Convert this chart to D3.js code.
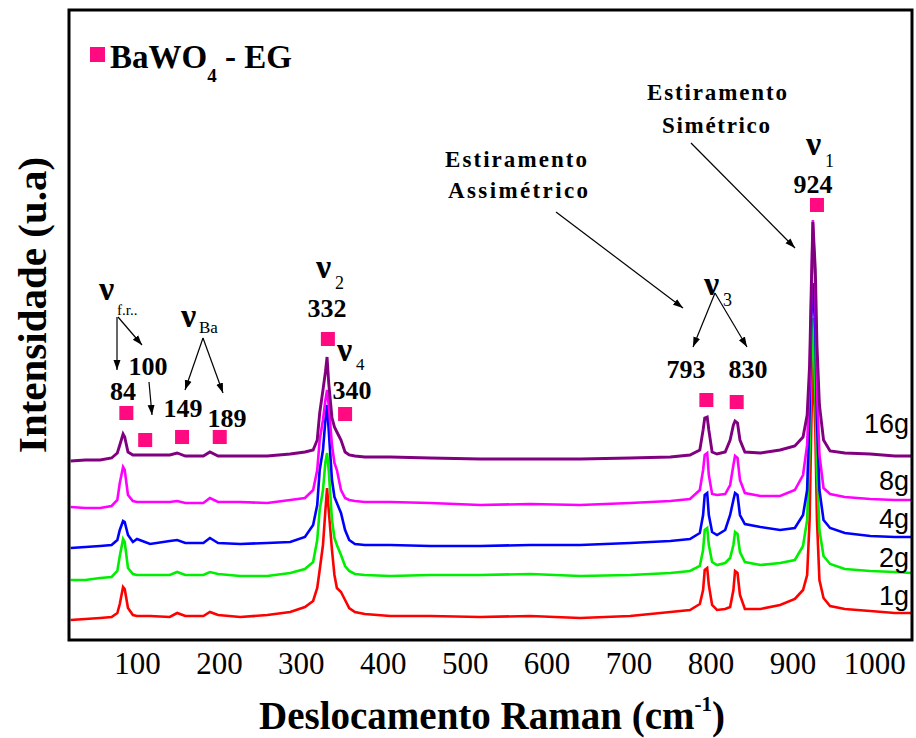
<!DOCTYPE html>
<html><head><meta charset="utf-8">
<script src="https://cdn.jsdelivr.net/npm/d3@7"></script>
<style>body{margin:0;background:#fff;} svg{display:block;}</style>
</head><body>
<svg id="c" width="916" height="738"></svg>
<script>
// Raman shift grid (cm-1)
const shift = [19,37,55,69,76,79,83,85,89,95,100,116,140,149,159,181,189,199,226,259,287,305,315,320,323,327,330,332,334,338,341,344,349,354,359,366,378,409,458,519,580,641,702,751,775,787,791,793,796,798,802,808,818,824,828,830,833,836,842,861,885,903,913,918,921,923,925,928,930,933,938,946,964,995,1025,1046];
// Intensities (u.a), stacked as in the figure
const int1g = [20,21,22,23,27,36,53,51,32,25,24,24,23,27,24,24,28,25,23,25,28,33,39,52,70,95,130,152,130,90,65,52,48,40,32,28,26,24,24,23,24,22,24,28,30,36,50,70,72,55,35,30,31,33,50,69,67,45,31,31,35,41,50,65,120,210,285,210,120,60,42,34,31,29,27,27];
const int2g = [60,60,62,63,69,84,101,98,72,66,65,65,65,68,65,65,68,66,64,64,67,71,78,100,130,150,178,187,170,120,102,95,85,74,69,66,65,64,65,65,66,64,65,67,69,74,90,110,112,95,78,75,77,82,95,108,106,88,78,75,77,80,94,120,190,270,322,250,170,110,84,76,71,69,68,67];
const int4g = [92,93,94,95,100,110,119,118,105,98,101,96,99,100,97,97,102,97,96,97,98,103,115,135,170,190,220,235,210,160,143,137,127,110,100,96,95,95,94,94,95,95,97,99,101,107,125,145,147,125,108,105,110,125,140,147,145,125,116,113,110,112,125,150,230,320,357,310,220,150,120,112,107,104,103,103];
const int8g = [133,132,132,134,140,157,173,170,145,139,138,138,138,139,137,137,142,138,138,137,140,142,150,170,200,220,240,250,235,195,177,170,150,142,140,139,138,138,137,135,136,135,137,139,141,150,170,185,187,165,146,145,146,155,175,184,182,160,147,144,144,150,165,195,260,340,420,350,250,185,152,146,143,141,140,140];
const int16g = [179,180,180,182,187,195,206,203,188,185,185,185,185,187,184,184,188,184,184,184,186,188,190,200,227,250,268,283,257,222,213,208,200,188,185,184,183,183,182,181,181,181,182,183,185,190,210,222,223,210,188,186,188,200,215,219,217,200,188,187,190,194,203,225,275,350,418,370,295,235,200,189,187,186,184,184];
const seriesNames = ["1g","2g","4g","8g","16g"];
const seriesValues = [int1g,int2g,int4g,int8g,int16g];
const seriesColors = ["#ff0000","#00ee00","#0000ff","#ff00ff","#800080"];
const xTicks = [100,200,300,400,500,600,700,800,900,1000];
// BaWO4 marker positions (shift, intensity)
const markerShift = [87,110,155,201,333,354,795,832,930];
const markerInt = [227,200,203,203,301,226,240,238,435];
const peakLabels = ["84","100","149","189","332","340","793","830","924"];

const svg = d3.select("#c");
const m={l:69,r:912,t:10,b:640};
const x=d3.scaleLinear().domain([17,1046]).range([m.l,m.r]);
const y=d3.scaleLinear().domain([0,630]).range([m.b,m.t]);
const serif='"Liberation Serif","Times New Roman",serif';
const sans='"Liberation Sans",Arial,sans-serif';

const defs=svg.append("defs");
defs.append("clipPath").attr("id","clip").append("rect")
  .attr("x",m.l).attr("y",m.t).attr("width",m.r-m.l).attr("height",m.b-m.t);
defs.append("marker").attr("id","arr").attr("viewBox","0 0 10 10").attr("refX",10).attr("refY",5)
  .attr("markerWidth",10).attr("markerHeight",10).attr("markerUnits","userSpaceOnUse").attr("orient","auto")
  .append("path").attr("d","M0,1.5 L10,5 L0,8.5 Z").attr("fill","#000");

const line=d3.line().x((d,i)=>x(shift[i])).y(d=>y(d));
const g=svg.append("g").attr("clip-path","url(#clip)");
seriesValues.forEach((vals,k)=>{
  g.append("path").datum(vals).attr("d",line).attr("fill","none")
   .attr("stroke",seriesColors[k]).attr("stroke-width",k===4?2.9:2.6).attr("stroke-linejoin","miter");
});

// frame
svg.append("rect").attr("x",m.l).attr("y",m.t).attr("width",m.r-m.l).attr("height",m.b-m.t)
  .attr("fill","none").attr("stroke","#000").attr("stroke-width",3);

// x axis
const ax=svg.append("g").attr("transform",`translate(0,${m.b})`)
  .call(d3.axisBottom(x).tickValues(xTicks).tickSize(0).tickPadding(12).tickFormat(d3.format("d")));
ax.select(".domain").remove();
ax.selectAll("text").attr("font-family",serif).attr("font-size",31).attr("fill","#000");

// axis titles
const xt=svg.append("text").attr("x",492).attr("y",729).attr("text-anchor","middle")
  .attr("font-family",serif).attr("font-weight","bold").attr("font-size",39).attr("fill","#000");
xt.append("tspan").text("Deslocamento Raman (cm");
xt.append("tspan").text("-1").attr("font-size",21).attr("dy",-18);
xt.append("tspan").text(")").attr("dy",18);
svg.append("text").attr("transform","translate(46,305) rotate(-90)").attr("text-anchor","middle")
  .attr("font-family",serif).attr("font-weight","bold").attr("font-size",41).attr("fill","#000")
  .text("Intensidade (u.a)");

// series labels
const labelY=[605,567,528,490,433];
seriesNames.forEach((n,k)=>{
  svg.append("text").attr("x",909).attr("y",labelY[k]).attr("text-anchor","end")
   .attr("font-family",sans).attr("font-size",27).attr("fill","#000").text(n);
});

// markers
const pink="#ff0a80";
svg.selectAll("rect.mk").data(markerShift).enter().append("rect").attr("class","mk")
  .attr("x",(d)=>x(d)-7).attr("y",(d,i)=>y(markerInt[i])-7).attr("width",14).attr("height",14).attr("fill",pink);

// legend
svg.append("rect").attr("x",90).attr("y",47).attr("width",15).attr("height",15).attr("fill",pink);
const lg=svg.append("text").attr("x",110).attr("y",68).attr("font-family",serif).attr("font-weight","bold")
  .attr("font-size",33).attr("fill","#000");
lg.append("tspan").text("BaWO");
lg.append("tspan").text("4").attr("font-size",19).attr("dy",14);
lg.append("tspan").text(" - EG").attr("dy",-14);

// peak numbers
const numPos=[[123,400],[148,375],[183,417],[227,427],[327,317],[352,399],[686,378],[748,378],[813,193]];
peakLabels.forEach((t,i)=>{
  svg.append("text").attr("x",numPos[i][0]).attr("y",numPos[i][1]).attr("text-anchor","middle")
   .attr("font-family",serif).attr("font-weight","bold").attr("font-size",26).attr("fill","#000").text(t);
});

// nu labels
function nu(xp,yp,sub,sx,sy,fs){
  svg.append("text").attr("x",xp).attr("y",yp).attr("font-family",serif).attr("font-weight","bold")
    .attr("font-size",34).attr("fill","#000").text("\u03bd");
  svg.append("text").attr("x",sx).attr("y",sy).attr("font-family",serif)
    .attr("font-size",fs).attr("fill","#000").text(sub);
}
nu(99,300,"f.r..",117,315,15);
nu(181,327,"Ba",199,333,17);
nu(316,278,"2",335,289,18);
nu(337,361,"4",356,370,17);
nu(704,295,"3",723,306,18);
nu(806,155,"1",825,167,18);

// Estiramento texts
function lab(t,xp,yp,len){
  svg.append("text").attr("x",xp).attr("y",yp).attr("text-anchor","middle")
   .attr("font-family",serif).attr("font-weight","bold").attr("font-size",23).attr("fill","#000")
   .attr("textLength",len).attr("lengthAdjust","spacing").text(t);
}
lab("Estiramento",717,100,140);
lab("Simétrico",716,133,108);
lab("Estiramento",516,167,142);
lab("Assimétrico",518,198,140);

// arrows
const arrows=[[691,143,795,248],[556,212,683,308],[715,293,693,347],[715,293,747,347],
  [117,317,117,370],[118,317,142,345],[149,382,152,415],[203,338,185,390],[203,338,223,393]];
arrows.forEach(a=>{
  svg.append("line").attr("x1",a[0]).attr("y1",a[1]).attr("x2",a[2]).attr("y2",a[3])
   .attr("stroke","#000").attr("stroke-width",1.2).attr("marker-end","url(#arr)");
});
</script>
</body></html>
